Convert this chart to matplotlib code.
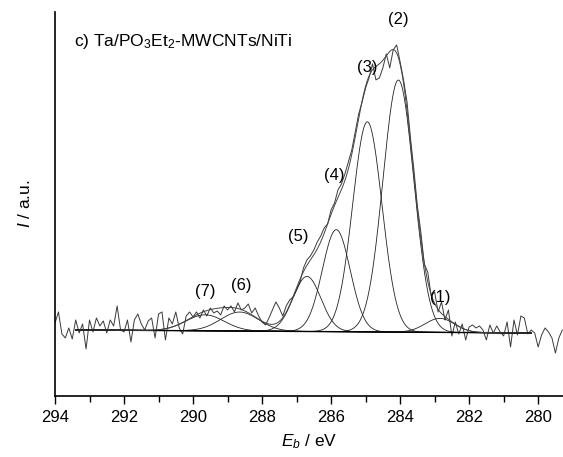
import numpy as np
import matplotlib
matplotlib.use("Agg")
import matplotlib.pyplot as plt
from matplotlib.ticker import MultipleLocator

plt.rcParams['font.family'] = ['Liberation Sans', 'DejaVu Sans']
plt.rcParams['mathtext.fontset'] = 'custom'
plt.rcParams['mathtext.rm'] = 'Liberation Sans'
plt.rcParams['mathtext.it'] = 'Liberation Sans:italic'

# measured spectrum, 294.0 -> 279.3 eV in 0.1 eV steps (a.u.)
energy = np.round(np.arange(294.0, 279.25, -0.1), 1)
intensity = [
    7, 18, -4, -8, 2, -9, 10, -3, 6, -19,
    10, -2, 12, 4, 9, -3, 10, 4, 24, 0,
    -2, 10, -12, 10, 16, 6, 0, 9, 12, -8,
    16, 18, -10, 12, 6, 18, 2, -4, 14, 18,
    13, 18, 12, 20, 14, 22, 17, 19, 15, 24,
    20, 24, 18, 27, 20, 22, 26, 17, 22, 14,
    8, 5, 12, 20, 28, 22, 14, 24, 30, 33,
    40, 48, 62, 70, 74, 80, 88, 94, 102, 106,
    120, 127, 140, 146, 156, 168, 180, 198, 216, 228,
    242, 252, 266, 250, 252, 262, 276, 262, 280, 285,
    268, 250, 228, 192, 160, 124, 98, 66, 58, 34,
    38, 18, 28, 10, 20, -6, 8, -4, 6, -10,
    3, 5, 2, 4, 0, -10, 5, -3, 4, -2,
    -6, 8, -17, 10, -5, 14, 12, -4, 0, -3,
    -17, -5, 2, -2, -8, -23, -8, 0,
]

# fitted components (1)..(7)
labels = ['(1)', '(2)', '(3)', '(4)', '(5)', '(6)', '(7)']
centres = [282.85, 284.05, 284.95, 285.85, 286.7, 288.65, 289.65]
heights = [14, 252, 210, 102, 55, 19, 16]
fwhm = [1.0, 1.05, 1.0, 0.95, 0.95, 1.3, 1.3]
label_pos = [(282.85, 32), (284.05, 310), (284.95, 262), (285.9, 154),
             (286.95, 93), (288.6, 44), (289.65, 38)]

# linear background
bg_ends = [293.4, 280.2]
bg_vals = [0, -3]

fig = plt.figure(figsize=(5.63, 4.57), dpi=100)
ax = fig.add_axes([0.0977, 0.1335, 0.9023, 0.8405])

ax.plot(energy, intensity, color='#3a3a3a', lw=0.7)

e_fit = np.linspace(bg_ends[0], bg_ends[1], 600)
bg = np.interp(e_fit, bg_ends[::-1], bg_vals[::-1])
env = bg.copy()
for c, h, w in zip(centres, heights, fwhm):
    comp = h * np.exp(-4 * np.log(2) * (e_fit - c) ** 2 / w ** 2)
    env += comp
    ax.plot(e_fit, bg + comp, color='#222222', lw=0.6)
ax.plot(e_fit, bg, color='black', lw=1.0)
ax.plot(e_fit, env, color='#444444', lw=0.7)

for lab, (x, y) in zip(labels, label_pos):
    ax.text(x, y, lab, ha='center', va='center', fontsize=12)

ax.text(293.45, 288, r'c) Ta/PO$_3$Et$_2$-MWCNTs/NiTi', fontsize=12.5,
        ha='left', va='center')

ax.set_xlim(294, 279.28)
ax.set_ylim(-66, 318)
ax.xaxis.set_major_locator(MultipleLocator(2))
ax.xaxis.set_minor_locator(MultipleLocator(1))
ax.tick_params(axis='x', which='major', length=6, width=1, labelsize=12, pad=4)
ax.tick_params(axis='x', which='minor', length=4, width=1)
ax.set_yticks([])
for s in ['top', 'right']:
    ax.spines[s].set_visible(False)
ax.spines['left'].set_linewidth(1.2)
ax.spines['bottom'].set_linewidth(1.2)

ax.set_xlabel(r'$E_b$ / eV', fontsize=12.5, labelpad=5)
ax.set_ylabel(r'$I$ / a.u.', fontsize=12.5, labelpad=16)

fig.savefig('out.png', dpi=100)
